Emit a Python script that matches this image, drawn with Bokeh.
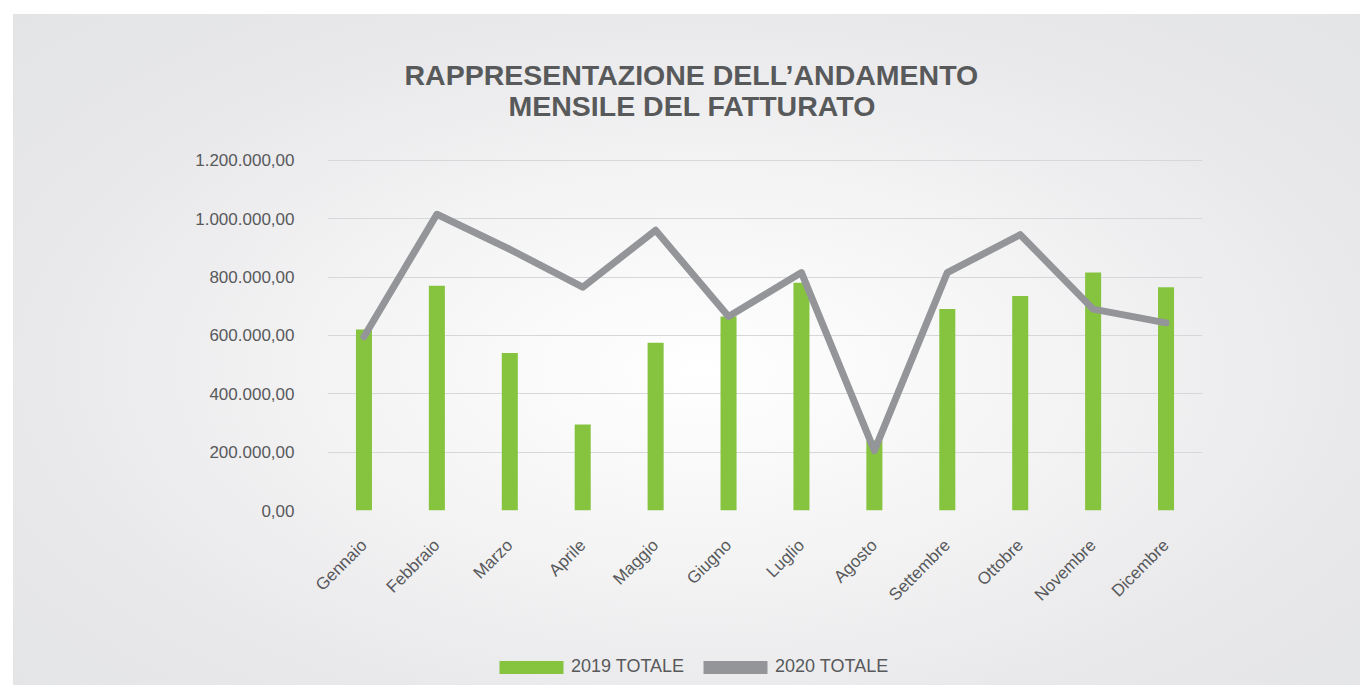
from math import pi
from bokeh.plotting import figure
from bokeh.layouts import column
from bokeh.models import (FactorRange, Range1d, FixedTicker, Legend, LegendItem, Title)
from bokeh.embed import file_html
from bokeh.resources import INLINE

# ---------------- data ----------------
months = ["Gennaio", "Febbraio", "Marzo", "Aprile", "Maggio", "Giugno",
          "Luglio", "Agosto", "Settembre", "Ottobre", "Novembre", "Dicembre"]
totale_2019 = [620000, 770000, 540000, 295000, 575000, 665000,
               780000, 240000, 690000, 735000, 815000, 765000]
totale_2020 = [595000, 1015000, 895000, 765000, 960000, 665000,
               815000, 205000, 815000, 945000, 690000, 643000]
y_tick_values = [0, 200000, 400000, 600000, 800000, 1000000, 1200000]
y_tick_labels = ["0,00", "200.000,00", "400.000,00", "600.000,00",
                 "800.000,00", "1.000.000,00", "1.200.000,00"]
title_lines = ["RAPPRESENTAZIONE DELL\u2019ANDAMENTO", "MENSILE DEL FATTURATO"]
series_labels = ["2019 TOTALE", "2020 TOTALE"]

GREEN = "#86c440"
GRAY = "#939598"
TEXT = "#58595b"
FONT = "Liberation Sans"

# ---------------- main chart ----------------
p = figure(x_range=FactorRange(*months), y_range=Range1d(0, 1206000),
           frame_width=875, frame_height=352,
           min_border_left=314, min_border_right=158,
           min_border_top=144, min_border_bottom=130,
           output_backend="svg", toolbar_location=None)
p.background_fill_alpha = 0
p.border_fill_alpha = 0
p.outline_line_color = None

bars = p.vbar(x=months, top=totale_2019, width=0.22, fill_color=GREEN, line_color=None)
line = p.line(x=months, y=totale_2020, line_width=7, line_color=GRAY,
              line_join="round", line_cap="round")

p.yaxis.ticker = FixedTicker(ticks=y_tick_values)
p.yaxis.major_label_overrides = dict(zip(y_tick_values, y_tick_labels))
for ax in (p.xaxis[0], p.yaxis[0]):
    ax.axis_line_color = None
    ax.major_tick_line_color = None
    ax.minor_tick_line_color = None
    ax.major_tick_in = 0
    ax.major_tick_out = 0
    ax.major_label_text_font = FONT
    ax.major_label_text_font_size = "17px"
    ax.major_label_text_color = TEXT
p.yaxis.major_label_standoff = 33
p.xaxis.major_label_orientation = pi / 4
p.xaxis.major_label_standoff = 32

p.xgrid.grid_line_color = None
p.ygrid.grid_line_color = "#d6d7d9"
p.ygrid.grid_line_width = 1

# title (two lines, second one added first = closest to the frame)
p.add_layout(Title(text=title_lines[1], align="left", offset=181, standoff=74,
                   text_font=FONT, text_font_style="bold", text_font_size="28.5px",
                   text_color=TEXT), "above")
p.add_layout(Title(text=title_lines[0], align="left", offset=77, standoff=-80,
                   text_font=FONT, text_font_style="bold", text_font_size="28.5px",
                   text_color=TEXT), "above")

# ---------------- legend strip ----------------
pl = figure(x_range=Range1d(0, 1), y_range=Range1d(0, 1), width=1347, height=45,
            x_axis_type=None, y_axis_type=None,
            min_border_left=0, min_border_right=0, min_border_top=0, min_border_bottom=0,
            output_backend="svg", toolbar_location=None)
pl.background_fill_alpha = 0
pl.border_fill_alpha = 0
pl.outline_line_color = None
pl.grid.visible = False
# legend keys only (zero-height, outside the visible range)
key_2019 = pl.vbar(x=[-1], top=[0], width=0.1, fill_color=GREEN, line_color=None)
key_2020 = pl.vbar(x=[-1], top=[0], width=0.1, fill_color=GRAY, line_color=None)

legend = Legend(items=[LegendItem(label=series_labels[0], renderers=[key_2019]),
                       LegendItem(label=series_labels[1], renderers=[key_2020])],
                orientation="horizontal", location=(164, 8),
                glyph_width=80, glyph_height=16, label_standoff=0, spacing=11,
                padding=0, margin=0, border_line_alpha=0, background_fill_alpha=0,
                label_text_font=FONT, label_text_font_size="18px", label_text_color=TEXT)
pl.add_layout(legend)

page = column(p, pl, spacing=0)
page.margin = (14, 0, 0, 13)
page.styles = {"background": "radial-gradient(ellipse 75% 80% at 51% 53%, #ffffff 0%, #f4f4f5 35%, #e9e9eb 65%, #e2e3e5 100%)"}

open("out.html", "w").write(file_html(page, INLINE))
